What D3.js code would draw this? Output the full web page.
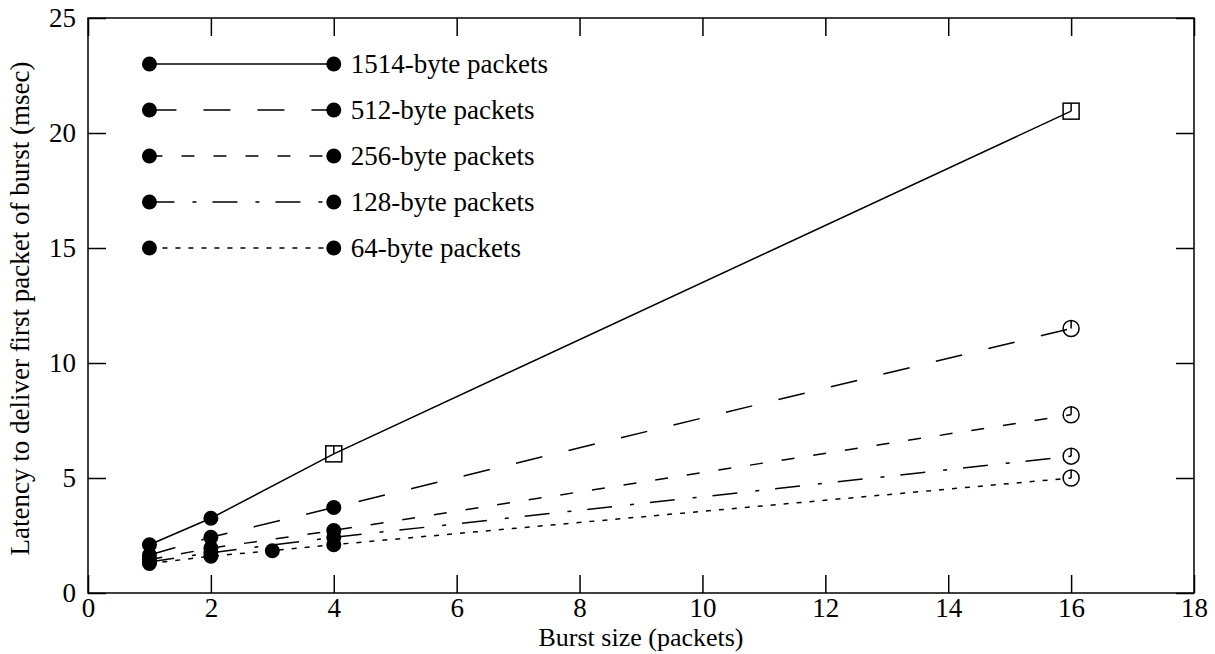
<!DOCTYPE html>
<html>
<head>
<meta charset="utf-8">
<script src="https://cdn.jsdelivr.net/npm/d3@7"></script>
<style>
  body { margin: 0; background: #fff; }
  text { font-family: "Liberation Serif", "Times New Roman", serif; fill: #000; }
</style>
</head>
<body>
<script>
// size of the page
var w = 1215;
var h = 654;

// data
const seriesNames = ["1514-byte packets", "512-byte packets", "256-byte packets", "128-byte packets", "64-byte packets"];
const burst1514 = [[1, 2.1], [2, 3.25], [4, 6.05], [16, 20.95]];
const burst512 = [[1, 1.65], [2, 2.42], [4, 3.72], [16, 11.5]];
const burst256 = [[1, 1.45], [2, 1.95], [4, 2.72], [16, 7.75]];
const burst128 = [[1, 1.35], [2, 1.75], [4, 2.42], [16, 5.95]];
const burst64 = [[1, 1.28], [2, 1.6], [3, 1.84], [4, 2.1], [16, 5.0]];
const xTicks = [0, 2, 4, 6, 8, 10, 12, 14, 16, 18];
const yTicks = [0, 5, 10, 15, 20, 25];
// legend sits in data coordinates: from x=1 to x=4, one row per y
const legendX = [1, 4];
const legendY = [23, 21, 19, 17, 15];

const allSeries = [burst1514, burst512, burst256, burst128, burst64];
// dash pattern per series, open marker shape and from which x it is used
const dashes = [null, "27,27", "13,19", "25,18,4,16", "5,8"];
const openShape = ["square", "circle", "circle", "circle", "circle"];
const openFrom = [4, 16, 16, 16, 16];

const margin = { top: 18, right: 21, bottom: 61, left: 88 };
const iw = w - margin.left - margin.right;
const ih = h - margin.top - margin.bottom;

const x = d3.scaleLinear().domain([0, 18]).range([0, iw]);
const y = d3.scaleLinear().domain([0, 25]).range([ih, 0]);

const svg = d3.select("body").append("svg")
    .attr("width", w)
    .attr("height", h);

const g = svg.append("g").attr("transform", `translate(${margin.left},${margin.top})`);

// frame
g.append("rect")
    .attr("width", iw).attr("height", ih)
    .attr("fill", "none").attr("stroke", "#000").attr("stroke-width", 1.5);

// axes, ticks pointing inward on all four sides
const tickLen = 18;
const fs = 27;

const xb = g.append("g").attr("transform", `translate(0,${ih})`)
    .call(d3.axisBottom(x).tickValues(xTicks).tickSizeInner(-tickLen).tickSizeOuter(0).tickPadding(5));
const xt = g.append("g")
    .call(d3.axisTop(x).tickValues(xTicks).tickSizeInner(-tickLen).tickSizeOuter(0).tickFormat(""));
const yl = g.append("g")
    .call(d3.axisLeft(y).tickValues(yTicks).tickSizeInner(-tickLen).tickSizeOuter(0).tickPadding(12));
const yr = g.append("g").attr("transform", `translate(${iw},0)`)
    .call(d3.axisRight(y).tickValues(yTicks).tickSizeInner(-tickLen).tickSizeOuter(0).tickFormat(""));

[xb, xt, yl, yr].forEach(a => {
    a.select(".domain").remove();
    a.selectAll(".tick line").attr("stroke", "#000").attr("stroke-width", 1.5);
    a.selectAll("text").attr("font-family", "Liberation Serif").attr("font-size", fs).attr("fill", "#000");
});

// axis titles
svg.append("text")
    .attr("x", margin.left + iw / 2).attr("y", 646)
    .attr("text-anchor", "middle").attr("font-size", 26)
    .text("Burst size (packets)");

svg.append("text")
    .attr("transform", `translate(29,${margin.top + ih / 2 + 3}) rotate(-90)`)
    .attr("text-anchor", "middle").attr("font-size", fs)
    .text("Latency to deliver first packet of burst (msec)");

const line = d3.line().x(d => x(d[0])).y(d => y(d[1]));

// draw one marker, filled dot or open shape with a "hand" to 12 o'clock
function marker(sel, px, py, shape) {
    if (shape === "dot") {
        sel.append("circle").attr("cx", px).attr("cy", py).attr("r", 7.5).attr("fill", "#000");
    } else if (shape === "square") {
        sel.append("rect").attr("x", px - 8).attr("y", py - 8).attr("width", 16).attr("height", 16)
            .attr("fill", "none").attr("stroke", "#000").attr("stroke-width", 1.5);
        sel.append("line").attr("x1", px).attr("x2", px).attr("y1", py - 8).attr("y2", py)
            .attr("stroke", "#000").attr("stroke-width", 1.5);
    } else {
        sel.append("circle").attr("cx", px).attr("cy", py).attr("r", 8)
            .attr("fill", "none").attr("stroke", "#000").attr("stroke-width", 1.5);
        sel.append("line").attr("x1", px).attr("x2", px).attr("y1", py - 8).attr("y2", py)
            .attr("stroke", "#000").attr("stroke-width", 1.5);
    }
}

// data lines
allSeries.forEach((s, i) => {
    g.append("path")
        .datum(s)
        .attr("d", line)
        .attr("fill", "none")
        .attr("stroke", "#000")
        .attr("stroke-width", 1.5)
        .attr("stroke-dasharray", dashes[i]);
});

// markers
allSeries.forEach((s, i) => {
    const mg = g.append("g");
    s.forEach(d => {
        marker(mg, x(d[0]), y(d[1]), d[0] >= openFrom[i] ? openShape[i] : "dot");
    });
});

// legend
seriesNames.forEach((name, i) => {
    const lg = g.append("g");
    const ly = y(legendY[i]);
    lg.append("line")
        .attr("x1", x(legendX[0])).attr("x2", x(legendX[1]))
        .attr("y1", ly).attr("y2", ly)
        .attr("stroke", "#000").attr("stroke-width", 1.5)
        .attr("stroke-dasharray", dashes[i]);
    marker(lg, x(legendX[0]), ly, "dot");
    marker(lg, x(legendX[1]), ly, "dot");
    lg.append("text")
        .attr("x", x(legendX[1]) + 17).attr("y", ly)
        .attr("dy", "0.35em").attr("font-size", fs)
        .text(name);
});
</script>
</body>
</html>
